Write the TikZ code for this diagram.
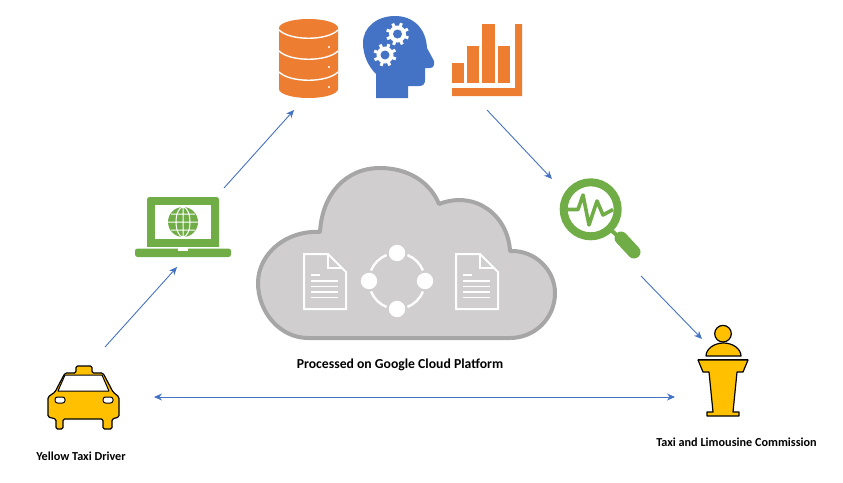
\documentclass[tikz,border=0pt]{standalone}
\usepackage{fontspec}
\setmainfont{Carlito}
\usetikzlibrary{arrows.meta}
\definecolor{flowblue}{HTML}{4472C4}
\definecolor{iconorange}{HTML}{ED7D31}
\definecolor{icongreen}{HTML}{70AD47}
\definecolor{iconyellow}{HTML}{FFC000}
\definecolor{cloudfill}{HTML}{D0CECE}
\definecolor{cloudline}{HTML}{A6A6A6}
\tikzset{
  flow/.style={flowblue,line width=0.9pt,-{Stealth[length=8pt,width=7pt]}},
  caption/.style={text=black,inner sep=0pt},
  yellowicon/.style={fill=iconyellow,draw=black,line width=1.2pt,line join=round},
  docline/.style={white,line width=1.6pt}
}
\begin{document}
\begin{tikzpicture}[x=1pt,y=-1pt]
  \useasboundingbox (0,0) rectangle (843,482);
  % connector ends
  \coordinate (taxiout) at (105,347);
  \coordinate (laptopin) at (177,267);
  \coordinate (laptopout) at (224,188);
  \coordinate (stackin) at (294,110);
  \coordinate (stackout) at (487,110);
  \coordinate (lensin) at (552,179);
  \coordinate (lensout) at (641,276);
  \coordinate (podiumin) at (702,339);
  \coordinate (taxiside) at (154,397);
  \coordinate (podiumside) at (675,397);
  % cloud
  \draw[fill=cloudfill,draw=cloudline,line width=4pt,line join=round]
    (308,338) .. controls (280,338) and (258,312) .. (258,283)
    .. controls (258,254) and (286,230) .. (320,232)
    .. controls (322,195) and (345,168) .. (380,168)
    .. controls (408,168) and (430,182) .. (439,204)
    .. controls (475,190) and (508,215) .. (510,251)
    .. controls (535,250) and (555,270) .. (555,293)
    .. controls (555,318) and (535,338) .. (510,338) -- cycle;
  % documents in the cloud
  \foreach \dx in {0,152} {
    \begin{scope}[xshift=\dx pt]
      \draw[white,line width=2pt,line join=miter] (304,254) -- (328,254) -- (346,272) -- (346,309) -- (304,309) -- cycle;
      \draw[white,line width=1.5pt] (328,255) -- (328,268) -- (341,268);
      \draw[docline] (311,275) -- (320,275);
      \foreach \ly in {281,286.5,292,297.5}
        \draw[docline] (311,\ly) -- (338,\ly);
    \end{scope}
  }
  % ring of circles
  \coordinate (ring) at (397,281);
  \foreach \ang in {0,90,180,270} {
    \draw[white,line width=2.4pt] (ring) ++(\ang+22:28) arc[start angle=\ang+22,end angle=\ang+68,radius=28];
    \fill[white] (ring) ++(\ang:28) circle (8.2);
  }
  % database
  \fill[iconorange] (279,28) arc[start angle=180,end angle=360,x radius=29.5,y radius=9]
    -- (338,89) arc[start angle=0,end angle=180,x radius=29.5,y radius=9] -- cycle;
  \foreach \sy in {30,51,72}
    \draw[white,line width=1.4pt] (279,\sy) .. controls (290,\sy+11) and (327,\sy+11) .. (338,\sy);
  \foreach \sy in {47,67,87}
    \fill[white] (329,\sy) circle (1.2);
  % head with gears
  \fill[flowblue] (376,98) -- (376,74) .. controls (368,66) and (363,55) .. (363,43)
    .. controls (363,27) and (377,16) .. (395,16)
    .. controls (413,16) and (426,28) .. (427,48)
    -- (434,61) .. controls (435,65) and (433,68) .. (430,68)
    -- (425,68) -- (425,80) .. controls (425,84) and (423,86) .. (419,86)
    -- (408,86) -- (408,98) -- cycle;
  \foreach \gx/\gy in {397.5/34,385/55} {
    \fill[white] (\gx,\gy) circle (8.5);
    \foreach \tooth in {0,45,...,315}
      \draw[white,line width=3pt] (\gx,\gy) ++(\tooth+20:7) -- ++(\tooth+20:4.5);
    \fill[flowblue] (\gx,\gy) circle (4.5);
  }
  % bar chart
  \foreach \bx/\by/\bw in {452/63/12,467/46/12,482/24/13,498/46/12}
    \fill[iconorange] (\bx,\by) rectangle (\bx+\bw,83);
  \fill[iconorange] (515,24) -- (522,24) -- (522,96) -- (452,96) -- (452,88) -- (515,88) -- cycle;
  % laptop
  \fill[icongreen,rounded corners=2.5pt] (147,250) -- (147,197) -- (219,197) -- (219,250) -- cycle;
  \fill[white] (155,205) rectangle (211,239);
  \fill[white] (146,247) rectangle (220,248.5);
  \fill[icongreen,rounded corners=2.5pt] (135,248.5) -- (231,248.5) -- (231,257) -- (135,257) -- cycle;
  \fill[white] (178,248) rectangle (188,251);
  \fill[icongreen] (183,222) circle (15);
  \draw[white,line width=1pt] (183,222) ellipse (7 and 15) (168,222) -- (198,222)
    (183,207) -- (183,237) (171,214) -- (195,214) (171,230) -- (195,230);
  % magnifier
  \draw[icongreen,line width=8pt] (590.7,209.3) circle (27);
  \draw[icongreen,line width=4pt] (612,231) -- (620,238);
  \draw[icongreen,line width=13pt,line cap=round] (621,238) -- (634,252);
  \draw[icongreen,line width=3.6pt,line join=round]
    (568,209.5) -- (578,209.5) -- (583,195) -- (589,225) -- (597,201) -- (603,215) -- (613,209.5);
  % taxi
  \draw[yellowicon,rounded corners=1.5pt] (76,373) -- (76,366) -- (92,366) -- (92,373) -- (103,373)
    -- (113,392) -- (119,397) -- (119,417) -- (112,419) -- (112,429) -- (103,429) -- (103,419)
    -- (63,419) -- (63,429) -- (56,429) -- (56,419) -- (48,417) -- (48,397) -- (55,392) -- (65,373) -- cycle;
  \draw[fill=white,draw=black,line width=1pt,line join=round] (65,375) -- (102,375) -- (109,391) -- (58,391) -- cycle;
  \draw[fill=white,draw=black,line width=1pt,rounded corners=2.5pt] (55,397) rectangle (65,403);
  \draw[fill=white,draw=black,line width=1pt,rounded corners=2.5pt] (103,397) rectangle (113,403);
  % podium
  \draw[yellowicon] (723,333.7) circle (8.3);
  \draw[yellowicon] (706,356) .. controls (706,349) and (714,343) .. (723.5,343)
    .. controls (733,343) and (741,349) .. (741,356) -- cycle;
  \draw[black,line width=1pt] (698,359.5) -- (748,359.5);
  \draw[yellowicon] (698,360) -- (748,360) -- (743,372) -- (737,372) -- (733,412) -- (739,412) -- (739,416)
    -- (707,416) -- (707,412) -- (713,412) -- (709,372) -- (703,372) -- cycle;
  % arrows
  \draw[flow] (taxiout) -- (laptopin);
  \draw[flow] (laptopout) -- (stackin);
  \draw[flow] (stackout) -- (lensin);
  \draw[flow] (lensout) -- (podiumin);
  \draw[flow,{Stealth[length=8pt,width=7pt]}-{Stealth[length=8pt,width=7pt]}] (taxiside) -- (podiumside);
  % captions
  \node[caption,font=\bfseries\fontsize{13.7}{16}\selectfont] (gcplabel) at (400,365) {Processed on Google Cloud Platform};
  \node[caption,font=\bfseries\fontsize{12.2}{14}\selectfont] (driverlabel) at (81,456) {Yellow Taxi Driver};
  \node[caption,font=\bfseries\fontsize{12.2}{14}\selectfont] (tlclabel) at (736.5,442) {Taxi and Limousine Commission};
\end{tikzpicture}
\end{document}
